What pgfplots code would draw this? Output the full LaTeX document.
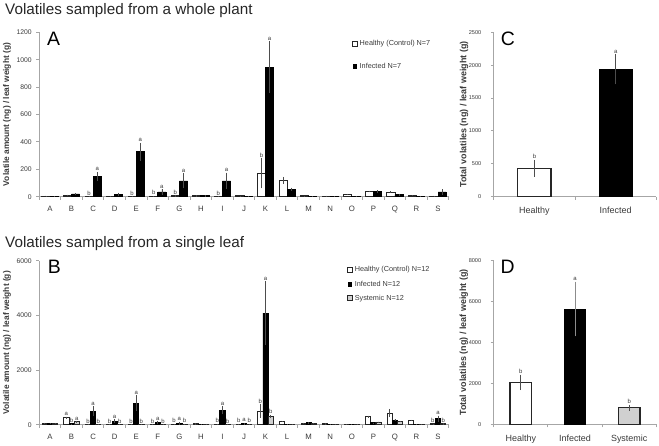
\documentclass[border=0pt]{standalone}
\usepackage{pgfplots}
\usepackage{pgfplotstable}
\pgfplotsset{compat=1.18}
\usepackage{fontspec}
\setmainfont{Liberation Sans}
\definecolor{axgray}{HTML}{A6A6A6}
\definecolor{txtgray}{HTML}{3A3A3A}
\definecolor{sysgray}{HTML}{D0D0D0}
\definecolor{errgray}{HTML}{4D4D4D}
\definecolor{edgegray}{HTML}{262626}

\pgfplotstableread{
x h he i ie
0 5 2 2 1
1 12 3 20 5
2 2 1 148 32
3 3 1 18 12
4 2 1 328 65
5 3 1 35 20
6 8 3 115 55
7 7 2 8 2
8 2 1 115 60
9 6 2 3 1
10 170 110 945 190
11 120 25 55 12
12 6 2 3 1
13 5 2 2 1
14 18 3 3 1
15 38 5 38 8
16 35 5 15 5
17 10 2 4 1
18 5 2 35 20
}\dataA

\pgfplotstableread{
x h he i ie s se
0 60 10 55 10 45 8
1 250 50 30 10 110 20
2 10 5 487 180 10 5
3 10 5 125 70 10 5
4 10 5 792 280 10 5
5 10 5 70 55 10 5
6 20 5 50 55 20 5
7 40 8 25 5 25 5
8 20 5 530 150 15 5
9 20 5 35 35 20 5
10 500 250 4080 1170 300 60
11 130 20 20 5 20 5
12 60 10 80 15 50 8
13 40 8 20 5 20 5
14 20 5 10 3 10 3
15 290 40 70 10 100 15
16 430 150 170 30 120 20
17 160 20 20 5 15 5
18 30 8 220 110 40 10
}\dataB

\pgfplotsset{
  panel/.style={
    scale only axis, clip=false,
    axis x line*=bottom, axis y line*=left,
    axis line style={axgray, line width=1bp, -},
    tick style={axgray, line width=0.9bp},
    tick align=outside, tick pos=left,
    major tick length=0bp, minor tick length=3bp,
    ymin=0,
    /pgf/number format/assume math mode=true,
    /pgf/number format/1000 sep={},
    yticklabel style={font=\fontsize{6.8}{7}\selectfont, text=txtgray, xshift=-4bp},
    xticklabel style={font=\fontsize{7.8}{8}\selectfont, text=txtgray, yshift=-5.5bp},
    ylabel style={font=\bfseries\fontsize{8.4}{9}\selectfont, text=txtgray, anchor=center},
    ybar,
    every axis plot/.append style={
      error bars/y dir=both, error bars/y explicit,
      error bars/error mark=none,
      error bars/error bar style={errgray, line width=0.7bp}},
  },
  small/.style={
    yticklabel style={font=\fontsize{5.6}{6}\selectfont, xshift=-5bp},
    xticklabel style={font=\fontsize{9}{10}\selectfont, yshift=-1.5bp},
    ylabel style={font=\bfseries\fontsize{9}{10}\selectfont},
  },
  hbar/.style={fill=white, draw=edgegray, line width=0.8bp},
  ibar/.style={fill=black, draw=black, line width=0.8bp},
  sbar/.style={fill=sysgray, draw=edgegray, line width=0.8bp},
  hleg/.style={legend image code/.code={\draw[fill=white, draw=edgegray, line width=0.8bp] (0bp,-2.5bp) rectangle (5bp,2.5bp);}},
  ileg/.style={legend image code/.code={\fill[black] (0.7bp,-2bp) rectangle (4.3bp,2bp);}},
  sleg/.style={legend image code/.code={\draw[fill=sysgray, draw=edgegray, line width=0.8bp] (0bp,-2.5bp) rectangle (5bp,2.5bp);}},
}
\tikzset{
  lab/.style={font=\fontsize{6}{6}\selectfont, text=txtgray, anchor=south, inner sep=0.8bp},
  pl/.style={font=\fontsize{19.5}{20}\selectfont, anchor=base west, inner sep=0pt, text=black},
  ttl/.style={font=\fontsize{15.3}{17}\selectfont, anchor=base west, inner sep=0pt, text=black!85},
}

\begin{document}
\begin{tikzpicture}
\useasboundingbox (0,0) rectangle (659bp,-446bp);
\node[ttl] at (5bp,-14.5bp) {Volatiles sampled from a whole plant};
\node[ttl] at (5bp,-247bp) {Volatiles sampled from a single leaf};

% ---------------- Panel A
\begin{axis}[panel,
  at={(39.2bp,-196.7bp)}, anchor=south west,
  width=409.6bp, height=164.4bp,
  xmin=-0.5, xmax=18.5, ymax=1200,
  xtick={0,...,18},
  xticklabels={A,B,C,D,E,F,G,H,I,J,K,L,M,N,O,P,Q,R,S},
  minor xtick={-0.5,0.5,...,18.5},
  ytick={0,200,...,1200}, minor ytick={0,200,...,1200},
  ylabel={Volatile amount (ng) / leaf weight (g)},
  ylabel style={at={(rel axis cs:-0.0786,0.5)}},
  bar width=0.38,
  legend style={at={(rel axis cs:0.763,0.965)}, anchor=north west, draw=none, fill=none,
    inner sep=0pt, font=\fontsize{7.3}{8}\selectfont, text=txtgray, row sep=12bp},
  legend cell align=left,
]
\addplot[hbar, hleg, bar shift=-0.19] table[x=x, y=h, y error=he] {\dataA};
\addlegendentry{Healthy (Control) N=7}
\addplot[ibar, ileg, bar shift=0.19] table[x=x, y=i, y error=ie] {\dataA};
\addlegendentry{Infected N=7}
\node[lab] at (axis cs:1.81,4) {b};  \node[lab] at (axis cs:2.19,180) {a};
\node[lab] at (axis cs:3.81,4) {b};  \node[lab] at (axis cs:4.19,393) {a};
\node[lab] at (axis cs:4.81,5) {b};  \node[lab] at (axis cs:5.19,55) {a};
\node[lab] at (axis cs:5.81,11) {b}; \node[lab] at (axis cs:6.19,170) {a};
\node[lab] at (axis cs:7.81,4) {b};  \node[lab] at (axis cs:8.19,175) {a};
\node[lab] at (axis cs:9.81,280) {b}; \node[lab] at (axis cs:10.19,1135) {a};
\node[pl] at (rel axis cs:0.019,0.917) {A};
\end{axis}

% ---------------- Panel C
\begin{axis}[panel, small,
  at={(493.8bp,-196.7bp)}, anchor=south west,
  width=162.5bp, height=164.4bp,
  xmin=-0.5, xmax=1.5, ymax=2500,
  xtick={0,1}, xticklabels={Healthy,Infected},
  minor xtick={-0.5,0.5,1.5},
  ytick={0,500,...,2500}, minor ytick={0,500,...,2500},
  ylabel={Total volatiles (ng) / leaf weight (g)},
  ylabel style={at={(rel axis cs:-0.183,0.5)}},
  bar width=0.407,
]
\addplot[hbar, line width=1.1bp, bar shift=0] coordinates {(0,431) +- (0,130)};
\addplot[ibar, bar shift=0] coordinates {(1,1937) +- (0,228)};
\node[lab] at (axis cs:0,561) {b};
\node[lab] at (axis cs:1,2165) {a};
\node[pl] at (rel axis cs:0.042,0.917) {C};
\end{axis}

% ---------------- Panel B
\begin{axis}[panel,
  at={(39.2bp,-424.7bp)}, anchor=south west,
  width=409.6bp, height=164bp,
  xmin=-0.5, xmax=18.5, ymax=6000,
  xtick={0,...,18},
  xticklabels={A,B,C,D,E,F,G,H,I,J,K,L,M,N,O,P,Q,R,S},
  minor xtick={-0.5,0.5,...,18.5},
  ytick={0,2000,4000,6000}, minor ytick={0,2000,4000,6000},
  ylabel={Volatile amount (ng) / leaf weight (g)},
  ylabel style={at={(rel axis cs:-0.0786,0.5)}},
  bar width=0.24,
  legend style={at={(rel axis cs:0.751,0.978)}, anchor=north west, draw=none, fill=none,
    inner sep=0pt, font=\fontsize{7.3}{8}\selectfont, text=txtgray, row sep=3.5bp},
  legend cell align=left,
]
\addplot[hbar, hleg, bar shift=-0.24] table[x=x, y=h, y error=he] {\dataB};
\addlegendentry{Healthy (Control) N=12}
\addplot[ibar, ileg, bar shift=0] table[x=x, y=i, y error=ie] {\dataB};
\addlegendentry{Infected N=12}
\addplot[sbar, sleg, bar shift=0.24] table[x=x, y=s, y error=se] {\dataB};
\addlegendentry{Systemic N=12}
\node[lab] at (axis cs:0.76,300) {a}; \node[lab] at (axis cs:1,40) {b}; \node[lab] at (axis cs:1.24,130) {a};
\node[lab] at (axis cs:1.76,15) {b}; \node[lab] at (axis cs:2,667) {a}; \node[lab] at (axis cs:2.24,15) {b};
\node[lab] at (axis cs:2.76,15) {b}; \node[lab] at (axis cs:3,195) {a}; \node[lab] at (axis cs:3.24,15) {b};
\node[lab] at (axis cs:3.76,15) {b}; \node[lab] at (axis cs:4,1072) {a}; \node[lab] at (axis cs:4.24,15) {b};
\node[lab] at (axis cs:4.76,15) {b}; \node[lab] at (axis cs:5,125) {a}; \node[lab] at (axis cs:5.24,15) {b};
\node[lab] at (axis cs:5.76,25) {b}; \node[lab] at (axis cs:6,105) {a}; \node[lab] at (axis cs:6.24,25) {b};
\node[lab] at (axis cs:7.76,25) {b}; \node[lab] at (axis cs:8,680) {a}; \node[lab] at (axis cs:8.24,20) {b};
\node[lab] at (axis cs:8.76,25) {b}; \node[lab] at (axis cs:9,70) {a}; \node[lab] at (axis cs:9.24,25) {b};
\node[lab] at (axis cs:9.76,750) {b}; \node[lab] at (axis cs:10,5250) {a}; \node[lab] at (axis cs:10.24,360) {b};
\node[lab] at (axis cs:17.76,40) {b}; \node[lab] at (axis cs:18,330) {a}; \node[lab] at (axis cs:18.24,50) {b};
\node[pl] at (rel axis cs:0.021,0.922) {B};
\end{axis}

% ---------------- Panel D
\begin{axis}[panel, small,
  at={(493.7bp,-424.3bp)}, anchor=south west,
  width=162.6bp, height=163.6bp,
  xmin=-0.5, xmax=2.5, ymax=8000,
  xtick={0,1,2}, xticklabels={Healthy,Infected,Systemic},
  minor xtick={-0.5,0.5,1.5,2.5},
  ytick={0,2000,...,8000}, minor ytick={0,2000,...,8000},
  ylabel={Total volatiles (ng) / leaf weight (g)},
  ylabel style={at={(rel axis cs:-0.183,0.5)}},
  bar width=0.4,
]
\addplot[hbar, line width=1.1bp, bar shift=0] coordinates {(0,2052) +- (0,380)};
\addplot[ibar, bar shift=0, error bars/error bar style={black!45, line width=0.9bp}] coordinates {(1,5636) +- (0,1336)};
\addplot[sbar, line width=1.1bp, bar shift=0] coordinates {(2,814) +- (0,150)};
\node[lab] at (axis cs:0,2432) {b};
\node[lab] at (axis cs:1,6972) {a};
\node[lab] at (axis cs:2,964) {b};
\node[pl] at (rel axis cs:0.042,0.922) {D};
\end{axis}
\end{tikzpicture}
\end{document}
